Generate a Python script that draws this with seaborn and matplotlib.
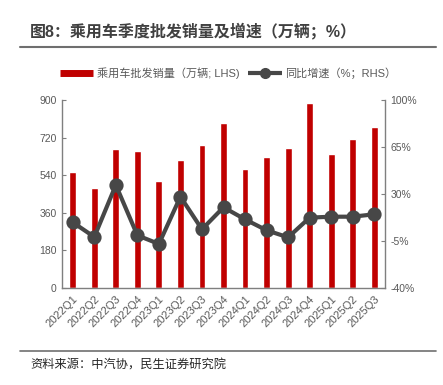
import numpy as np
import pandas as pd
import matplotlib
matplotlib.use("Agg")
import matplotlib.pyplot as plt
from matplotlib.lines import Line2D
import seaborn as sns

# data
quarters = ["2022Q1", "2022Q2", "2022Q3", "2022Q4",
            "2023Q1", "2023Q2", "2023Q3", "2023Q4",
            "2024Q1", "2024Q2", "2024Q3", "2024Q4",
            "2025Q1", "2025Q2", "2025Q3"]
sales = [554, 480, 664, 656, 514, 613, 686, 788, 568, 629, 670, 887, 643, 712, 769]
yoy = [8.9, -2.0, 36.7, -0.8, -7.2, 28.0, 3.7, 20.1, 11.1, 3.0, -2.3, 12.4, 13.1, 13.1, 14.9]

left_ticks = [0, 180, 360, 540, 720, 900]
right_ticks = [-40, -5, 30, 65, 100]

title = "图8：乘用车季度批发销量及增速（万辆；%）"
source = "资料来源：中汽协，民生证券研究院"
bar_label = "乘用车批发销量（万辆; LHS)"
line_label = "同比增速（%；RHS）"

RED = "#C00000"
GREY_LINE = "#474747"
TXT = "#595959"
SPINE = "#7f7f7f"

sns.set_theme(style="white")
plt.rcParams["font.family"] = ["Liberation Sans", "Noto Sans CJK SC", "DejaVu Sans"]

df = pd.DataFrame({"quarter": quarters, "sales": sales, "yoy": yoy})

fig = plt.figure(figsize=(4.43, 3.85), dpi=100)
ax = fig.add_axes([62 / 443, 1 - 288 / 385, (385 - 62) / 443, 188 / 385])

sns.barplot(data=df, x="quarter", y="sales", color=RED, width=0.32,
            saturation=1, ax=ax)
ax.set_ylim(0, 900)
ax.set_yticks(left_ticks)
ax.set_xlim(-0.5, len(quarters) - 0.5)
ax.set_xlabel("")
ax.set_ylabel("")

ax2 = ax.twinx()
sns.pointplot(data=df, x="quarter", y="yoy", color=GREY_LINE, markers="o",
              markersize=8, linewidth=3, ax=ax2)
ax2.set_ylim(-40, 100)
ax2.set_yticks(right_ticks)
ax2.set_yticklabels([f"{t}%" for t in right_ticks])
ax2.set_xlim(-0.5, len(quarters) - 0.5)
ax2.set_ylabel("")
ax2.set_xlabel("")

# x ticks: labels at centres, tick marks at the category edges
ax.set_xticks(range(len(quarters)))
ax.set_xticklabels(quarters, rotation=45, ha="right", rotation_mode="anchor")
ax.set_xticks(np.arange(-0.5, len(quarters), 1), minor=True)
ax.tick_params(axis="x", which="major", length=0, pad=4, labelsize=8, labelcolor=TXT)
ax.tick_params(axis="x", which="minor", length=3, direction="out", color=SPINE, width=0.8)
ax.tick_params(axis="y", length=3, direction="in", color=SPINE, width=0.8,
               labelsize=7.5, labelcolor=TXT, left=True, pad=4)
ax2.tick_params(axis="y", length=3, direction="in", color=SPINE, width=0.8,
                labelsize=7.5, labelcolor=TXT, right=True, pad=4)

for a in (ax, ax2):
    a.spines["top"].set_visible(False)
    for s in ("left", "right", "bottom"):
        a.spines[s].set_color(SPINE)
        a.spines[s].set_linewidth(1.0)
ax.spines["right"].set_visible(False)
ax2.spines["left"].set_visible(False)
ax2.spines["bottom"].set_visible(False)

# legend above the plot
handles = [Line2D([0], [0], color=RED, linewidth=5, solid_capstyle="butt"),
           Line2D([0], [0], color=GREY_LINE, linewidth=3, marker="o", markersize=7,
                  solid_capstyle="butt")]
fig.legend(handles, [bar_label, line_label], loc="center", bbox_to_anchor=(0.515, 1 - 73 / 385),
           ncol=2, frameon=False, fontsize=8, labelcolor=TXT, handlelength=3.0,
           handletextpad=0.3, columnspacing=0.8)

# title, rules and source
fig.text(30 / 443, 1 - 31 / 385, title, fontsize=11.5, fontweight="bold",
         color="#404040", va="center", ha="left")
fig.add_artist(Line2D([20 / 443, 436 / 443], [1 - 47 / 385, 1 - 47 / 385],
                      color="#6f6f6f", linewidth=1.5))
fig.add_artist(Line2D([20 / 443, 436 / 443], [1 - 351 / 385, 1 - 351 / 385],
                      color="#6f6f6f", linewidth=1.2))
fig.text(30 / 443, 1 - 366 / 385, source, fontsize=8.8, color="#262626",
         va="center", ha="left")

fig.savefig("out.png", dpi=100, facecolor="white")
plt.close(fig)
